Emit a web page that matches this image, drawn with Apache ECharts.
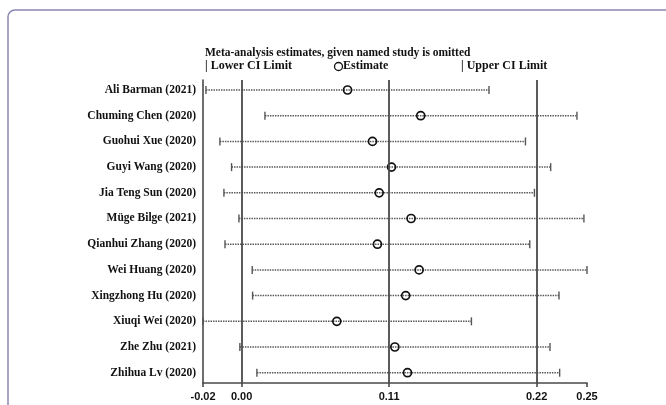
<!DOCTYPE html>
<html>
<head>
<meta charset="utf-8">
<script src="https://cdn.jsdelivr.net/npm/echarts@6/dist/echarts.min.js"></script>
<style>html,body{margin:0;padding:0;background:#fff}#c{width:666px;height:405px}</style>
</head>
<body>
<div id="c"></div>
<script>
// ---- data ----
var studies = ['Ali Barman (2021)','Chuming Chen (2020)','Guohui Xue (2020)','Guyi Wang (2020)','Jia Teng Sun (2020)','Müge Bilge (2021)','Qianhui Zhang (2020)','Wei Huang (2020)','Xingzhong Hu (2020)','Xiuqi Wei (2020)','Zhe Zhu (2021)','Zhihua Lv (2020)'];
var lowerCI  = [-0.0266, 0.0174, -0.0162, -0.0075, -0.0132, -0.0020, -0.0124, 0.0079, 0.0082, -0.0288, -0.0013, 0.0114];
var estimate = [0.0790, 0.1336, 0.0976, 0.1118, 0.1026, 0.1264, 0.1013, 0.1324, 0.1224, 0.0710, 0.1143, 0.1237];
var upperCI  = [0.1845, 0.2501, 0.2117, 0.2305, 0.2184, 0.2553, 0.2149, 0.2576, 0.2367, 0.1714, 0.2300, 0.2372];
var tickValues = [-0.0288, 0.00, 0.11, 0.22, 0.2576];
var tickLabels = ['-0.02', '0.00', '0.11', '0.22', '0.25'];
var refLines = [0.00, 0.11, 0.22];
var titleText = 'Meta-analysis estimates, given named study is omitted';
var legendTexts = ['| Lower CI Limit', 'Estimate', '| Upper CI Limit'];

var rows = studies.map(function (s, i) { return [lowerCI[i], estimate[i], upperCI[i], i + 1]; });
var rowIdx = studies.map(function (s, i) { return i + 1; });

var chart = echarts.init(document.getElementById('c'));
var serif = "'Liberation Serif', 'Times New Roman', serif";
var lineCol = '#4a4a4a';

chart.setOption({
  animation: false,
  grid: { left: 203, right: 79, top: 80, bottom: 22 },
  xAxis: {
    type: 'value',
    min: tickValues[0],
    max: tickValues[tickValues.length - 1],
    splitLine: { show: false },
    axisLine: { show: true, lineStyle: { color: lineCol, width: 1.6 } },
    axisTick: { show: true, length: 4, customValues: tickValues, lineStyle: { color: lineCol, width: 1.6 } },
    axisLabel: {
      customValues: tickValues,
      margin: 8,
      fontFamily: "'Liberation Sans', Arial, sans-serif",
      fontWeight: 'bold',
      fontSize: 11,
      color: '#111',
      formatter: function (v) { var k = tickValues.indexOf(v); return k >= 0 ? tickLabels[k] : ''; }
    }
  },
  yAxis: {
    type: 'value',
    inverse: true,
    min: 0.61,
    max: 12.4,
    splitLine: { show: false },
    axisLine: { show: true, onZero: false, lineStyle: { color: lineCol, width: 1.6 } },
    axisTick: { show: false },
    axisLabel: {
      customValues: rowIdx,
      margin: 7,
      fontFamily: serif,
      fontWeight: 'bold',
      fontSize: 11.5,
      color: '#111',
      formatter: function (v) { return studies[Math.round(v) - 1] || ''; }
    }
  },
  graphic: [
    { type: 'rect', shape: { x: 8, y: 10, width: 720, height: 460, r: 7 }, style: { fill: 'none', stroke: '#8a86b4', lineWidth: 1.5 }, silent: true },
    { type: 'text', left: 205, top: 47, style: { text: titleText, font: "bold 11.5px " + serif, fill: '#111' } },
    { type: 'text', left: 205, top: 60, style: { text: legendTexts[0], font: "bold 12px " + serif, fill: '#111' } },
    { type: 'circle', shape: { cx: 338.5, cy: 66.5, r: 4 }, style: { fill: 'none', stroke: '#111', lineWidth: 1.3 } },
    { type: 'text', left: 343, top: 60, style: { text: legendTexts[1], font: "bold 12px " + serif, fill: '#111' } },
    { type: 'text', left: 461, top: 60, style: { text: legendTexts[2], font: "bold 12px " + serif, fill: '#111' } }
  ],
  series: [
    {
      type: 'line',
      data: [],
      silent: true,
      markLine: {
        symbol: 'none',
        silent: true,
        label: { show: false },
        lineStyle: { color: lineCol, width: 1.8, type: 'solid' },
        data: refLines.map(function (v) { return { xAxis: v }; })
      }
    },
    {
      type: 'custom',
      data: rows,
      encode: { x: [0, 1, 2], y: 3 },
      renderItem: function (params, api) {
        var y = api.value(3);
        var pL = api.coord([api.value(0), y]);
        var pE = api.coord([api.value(1), y]);
        var pU = api.coord([api.value(2), y]);
        var h = 4;
        return {
          type: 'group',
          children: [
            { type: 'line', shape: { x1: pL[0], y1: pL[1], x2: pU[0], y2: pU[1] },
              style: { stroke: '#5a5a5a', lineWidth: 1.5, lineDash: [1.5, 1] } },
            { type: 'line', shape: { x1: pL[0], y1: pL[1] - h, x2: pL[0], y2: pL[1] + h },
              style: { stroke: '#555', lineWidth: 1.4 } },
            { type: 'line', shape: { x1: pU[0], y1: pU[1] - h, x2: pU[0], y2: pU[1] + h },
              style: { stroke: '#555', lineWidth: 1.4 } },
            { type: 'circle', shape: { cx: pE[0], cy: pE[1], r: 4 },
              style: { fill: 'none', stroke: '#111', lineWidth: 1.7 } }
          ]
        };
      }
    }
  ]
});
</script>
</body>
</html>
